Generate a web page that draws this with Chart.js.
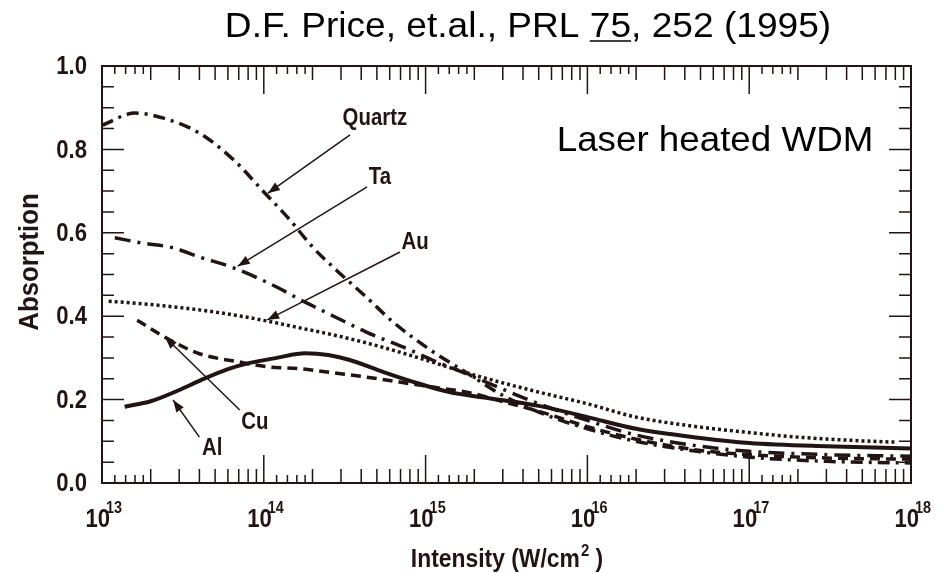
<!DOCTYPE html>
<html>
<head>
<meta charset="utf-8">
<script src="https://cdn.jsdelivr.net/npm/chart.js@4.4.1/dist/chart.umd.min.js"></script>
<style>
  html, body { margin: 0; padding: 0; background: #fff; }
  #wrap { width: 946px; height: 573px; }
</style>
</head>
<body>
<div id="wrap"><canvas id="absChart" width="946" height="573"></canvas></div>
<script>
// intensity (W/cm^2) and absorption, one pair of arrays per material
const quartzI = [1e13, 1.6e13, 2.4e13, 4e13, 6.5e13, 1e14, 1.45e14, 2e14, 2.8e14, 4.35e14, 6.3e14, 1.07e15, 1.8e15, 3e15, 5e15, 1e16, 2e16, 5e16, 1e17, 3e17, 1e18];
const quartzA = [0.858, 0.887, 0.875, 0.839, 0.775, 0.698, 0.631, 0.566, 0.511, 0.444, 0.386, 0.319, 0.264, 0.21, 0.17, 0.13, 0.1, 0.075, 0.062, 0.052, 0.048];

const taI = [1.2e13, 1.8e13, 2.75e13, 4e13, 6.5e13, 1.2e14, 1.67e14, 2e14, 2.7e14, 4.3e14, 8e14, 1.1e15, 1.56e15, 2.2e15, 5e15, 1e16, 2e16, 5e16, 1e17, 3e17, 1e18];
const taA = [0.588, 0.575, 0.564, 0.542, 0.516, 0.47, 0.44, 0.425, 0.4, 0.362, 0.319, 0.295, 0.271, 0.247, 0.19, 0.15, 0.115, 0.088, 0.076, 0.068, 0.064];

const auI = [1.1e13, 2e13, 5e13, 1e14, 1.67e14, 2.7e14, 4.3e14, 6.9e14, 1.1e15, 1.8e15, 3e15, 5e15, 1e16, 2e16, 5e16, 1e17, 2e17, 5e17, 8e17];
const auA = [0.436, 0.428, 0.41, 0.39, 0.372, 0.355, 0.336, 0.314, 0.29, 0.264, 0.24, 0.218, 0.19, 0.158, 0.134, 0.121, 0.11, 0.101, 0.098];

const cuI = [1.65e13, 2.63e13, 4e13, 7.1e13, 1.09e14, 1.67e14, 2.7e14, 4.3e14, 6.9e14, 1.1e15, 1.8e15, 3e15, 5e15, 1e16, 2e16, 5e16, 1e17, 3e17, 1e18];
const cuA = [0.39, 0.343, 0.31, 0.29, 0.278, 0.274, 0.264, 0.254, 0.242, 0.23, 0.218, 0.195, 0.172, 0.135, 0.105, 0.078, 0.068, 0.06, 0.057];

const alI = [1.38e13, 2e13, 3e13, 4e13, 6e13, 8.2e13, 1.2e14, 1.8e14, 2.5e14, 3.4e14, 5.5e14, 8.8e14, 1.4e15, 2.3e15, 5e15, 1e16, 2e16, 5e16, 1e17, 3e17, 1e18];
const alA = [0.183, 0.196, 0.223, 0.245, 0.273, 0.288, 0.3, 0.311, 0.307, 0.295, 0.266, 0.24, 0.218, 0.205, 0.185, 0.158, 0.13, 0.108, 0.096, 0.088, 0.083];

// axis ticks
const xDecades = [13, 14, 15, 16, 17, 18];
const xMinor = [1.2, 1.4, 1.6, 1.8, 2, 3, 4, 5, 6, 7, 8, 9];
const yLabels = [0.0, 0.2, 0.4, 0.6, 0.8, 1.0];

// curve labels: name, label position, arrow start, arrow tip (data units)
const tags = [
  { name: "Quartz", at: [4.86e14, 0.875], from: [3.41e14, 0.835], to: [1.06e14, 0.695] },
  { name: "Ta",     at: [5.22e14, 0.734], from: [4.35e14, 0.71],  to: [6.9e13, 0.52] },
  { name: "Au",     at: [8.6e14, 0.576],  from: [6.95e14, 0.554], to: [1.05e14, 0.391] },
  { name: "Cu",     at: [8.8e13, 0.146],  from: [7.1e13, 0.175],  to: [2.45e13, 0.35] },
  { name: "Al",     at: [4.8e13, 0.084],  from: [4.0e13, 0.11],   to: [2.75e13, 0.199] }
];

const INK = "#221414";
const SANS = "'Liberation Sans', Arial, Helvetica, sans-serif";

function pts(xs, ys) {
    return xs.map((x, i) => ({ x: x, y: ys[i] }));
}

function curve(label, xs, ys, dash, width) {
    return {
        label: label,
        data: pts(xs, ys),
        borderColor: INK,
        borderWidth: width,
        borderDash: dash,
        borderCapStyle: "butt",
        pointRadius: 0,
        fill: false,
        cubicInterpolationMode: "monotone"
    };
}

// condensed bold type: Liberation Sans Bold squeezed sideways
function squeezed(ctx, text, x, y, size, align, sq, bold) {
    ctx.save();
    ctx.font = (bold === false ? "" : "bold ") + size + "px " + SANS;
    ctx.translate(x, y);
    ctx.scale(sq, 1);
    ctx.textAlign = align;
    ctx.fillText(text, 0, 0);
    ctx.restore();
}

function widthOf(ctx, text, size, sq, bold) {
    ctx.save();
    ctx.font = (bold === false ? "" : "bold ") + size + "px " + SANS;
    const w = ctx.measureText(text).width * sq;
    ctx.restore();
    return w;
}

function arrow(ctx, x0, y0, x1, y1) {
    ctx.beginPath();
    ctx.moveTo(x0, y0);
    ctx.lineTo(x1, y1);
    ctx.stroke();
    const ang = Math.atan2(y1 - y0, x1 - x0);
    const len = 12, half = 4.5;
    ctx.beginPath();
    ctx.moveTo(x1, y1);
    ctx.lineTo(x1 - len * Math.cos(ang) + half * Math.sin(ang), y1 - len * Math.sin(ang) - half * Math.cos(ang));
    ctx.lineTo(x1 - len * Math.cos(ang) - half * Math.sin(ang), y1 - len * Math.sin(ang) + half * Math.cos(ang));
    ctx.closePath();
    ctx.fill();
}

// frame, inward ticks, labels and notes
const framePlugin = {
    id: "frame",
    afterDatasetsDraw(chart) {
        const ctx = chart.ctx;
        const a = chart.chartArea;
        const xs = chart.scales.x, ys = chart.scales.y;
        ctx.save();
        ctx.strokeStyle = INK;
        ctx.fillStyle = INK;

        ctx.lineWidth = 2;
        ctx.strokeRect(a.left, a.top, a.right - a.left, a.bottom - a.top);

        ctx.lineWidth = 1.5;
        ctx.beginPath();
        for (let e = 13; e < 18; e++) {
            xMinor.forEach(m => {
                const px = xs.getPixelForValue(m * Math.pow(10, e));
                const len = m < 2 ? 8 : 14;
                ctx.moveTo(px, a.bottom); ctx.lineTo(px, a.bottom - len);
                ctx.moveTo(px, a.top); ctx.lineTo(px, a.top + len);
            });
        }
        xDecades.forEach(e => {
            const px = xs.getPixelForValue(Math.pow(10, e));
            ctx.moveTo(px, a.bottom); ctx.lineTo(px, a.bottom - 28);
            ctx.moveTo(px, a.top); ctx.lineTo(px, a.top + 28);
        });
        for (let k = 1; k < 20; k++) {
            const py = ys.getPixelForValue(k * 0.05);
            const len = k % 4 === 0 ? 22 : 12;
            ctx.moveTo(a.left, py); ctx.lineTo(a.left + len, py);
            ctx.moveTo(a.right, py); ctx.lineTo(a.right - len, py);
        }
        ctx.stroke();

        // y tick labels
        ctx.textBaseline = "middle";
        yLabels.forEach(v => {
            squeezed(ctx, v.toFixed(1), a.left - 15, ys.getPixelForValue(v) + 1, 26, "right", 0.85);
        });

        // x tick labels 10^n
        ctx.textBaseline = "alphabetic";
        xDecades.forEach(e => {
            const px = xs.getPixelForValue(Math.pow(10, e));
            squeezed(ctx, "10", px + 8, a.bottom + 44, 26, "right", 0.85);
            squeezed(ctx, String(e), px + 4, a.bottom + 30, 17, "left", 0.85);
        });

        // axis titles
        const t1 = "Intensity (W/cm";
        const w1 = widthOf(ctx, t1, 26, 0.88);
        const w2 = widthOf(ctx, "2", 17, 0.88);
        const w3 = widthOf(ctx, " )", 26, 0.88);
        const tx = (a.left + a.right) / 2 - (w1 + w2 + w3) / 2;
        squeezed(ctx, t1, tx, 567, 26, "left", 0.88);
        squeezed(ctx, "2", tx + w1 + 1, 556, 17, "left", 0.88);
        squeezed(ctx, " )", tx + w1 + w2 + 1, 567, 26, "left", 0.88);

        ctx.save();
        ctx.translate(30, 262);
        ctx.rotate(-Math.PI / 2);
        ctx.textBaseline = "middle";
        squeezed(ctx, "Absorption", 0, 0, 28, "center", 0.92);
        ctx.restore();

        // curve names with arrows
        ctx.lineWidth = 1.5;
        ctx.textBaseline = "middle";
        tags.forEach(t => {
            squeezed(ctx, t.name, xs.getPixelForValue(t.at[0]), ys.getPixelForValue(t.at[1]), 24, "center", 0.85);
            arrow(ctx,
                xs.getPixelForValue(t.from[0]), ys.getPixelForValue(t.from[1]),
                xs.getPixelForValue(t.to[0]), ys.getPixelForValue(t.to[1]));
        });

        // citation and note in plain type
        ctx.fillStyle = "#000";
        ctx.strokeStyle = "#000";
        ctx.textBaseline = "alphabetic";
        const pre = "D.F. Price, et.al., PRL ";
        const vol = "75";
        const post = ", 252 (1995)";
        const wPre = widthOf(ctx, pre, 35, 1.06, false);
        const wVol = widthOf(ctx, vol, 35, 1.06, false);
        const wAll = widthOf(ctx, pre + vol + post, 35, 1.06, false);
        const sx = 528 - wAll / 2;
        squeezed(ctx, pre + vol + post, sx, 37, 35, "left", 1.06, false);
        ctx.lineWidth = 1.5;
        ctx.beginPath();
        ctx.moveTo(sx + wPre, 41);
        ctx.lineTo(sx + wPre + wVol, 41);
        ctx.stroke();

        squeezed(ctx, "Laser heated WDM", 715, 151, 35, "center", 1.05, false);
        ctx.restore();
    }
};

new Chart(document.getElementById("absChart"), {
    type: "line",
    data: {
        datasets: [
            curve("Quartz", quartzI, quartzA, [12, 6, 3, 6], 3.5),
            curve("Ta", taI, taA, [16, 7, 3, 7], 3.5),
            curve("Au", auI, auA, [3, 3], 3.5),
            curve("Cu", cuI, cuA, [10, 6], 3.5),
            curve("Al", alI, alA, [], 4)
        ]
    },
    options: {
        responsive: false,
        animation: false,
        layout: { padding: { left: 102, right: 35, top: 66, bottom: 90 } },
        plugins: { legend: { display: false }, tooltip: { enabled: false } },
        scales: {
            x: { type: "logarithmic", min: 1e13, max: 1e18, display: false },
            y: { type: "linear", min: 0, max: 1, display: false }
        }
    },
    plugins: [framePlugin]
});
</script>
</body>
</html>
